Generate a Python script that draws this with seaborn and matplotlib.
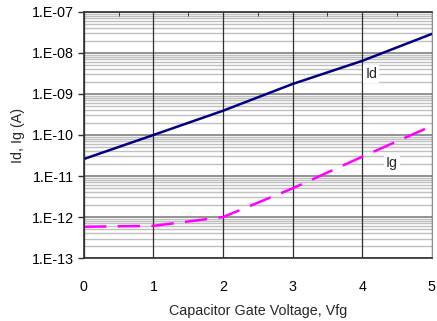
import numpy as np
import pandas as pd
import matplotlib
matplotlib.use("Agg")
import matplotlib.pyplot as plt
import matplotlib.ticker as mticker
import seaborn as sns

# values
vfg = [0, 1, 2, 3, 4, 5]
id_vals = [2.6e-11, 1.0e-10, 3.9e-10, 1.75e-9, 6.4e-9, 2.9e-8]
ig_vals = [5.8e-13, 6.1e-13, 1.0e-12, 5.0e-12, 2.95e-11, 1.66e-10]

df = pd.DataFrame({"Vfg": vfg * 2,
                   "I": id_vals + ig_vals,
                   "series": ["Id"] * len(vfg) + ["Ig"] * len(vfg)})

sns.set_style("white")
plt.rcParams["font.family"] = ["Liberation Sans", "DejaVu Sans"]
FS = 10.3

fig, ax = plt.subplots(figsize=(4.37, 3.21), dpi=100)
fig.subplots_adjust(left=0.192, right=0.988, top=0.963, bottom=0.196)

ax.set_yscale("log")
ax.set_xlim(0, 5)
ax.set_ylim(1e-13, 1e-7)

# grid: light minor, darker major horizontal, dark vertical at integers
ax.yaxis.set_major_locator(mticker.LogLocator(base=10, numticks=20))
ax.yaxis.set_minor_locator(mticker.LogLocator(base=10, subs=np.arange(2, 10), numticks=20))
ax.yaxis.set_minor_formatter(mticker.NullFormatter())
ax.yaxis.set_major_formatter(mticker.FuncFormatter(lambda v, p: "1.E%03d" % round(np.log10(v))))
ax.xaxis.set_major_locator(mticker.MultipleLocator(1))
ax.xaxis.set_minor_locator(mticker.MultipleLocator(0.5))
ax.grid(which="minor", axis="y", color="#c0c0c0", lw=1.0, ls="-")
ax.grid(which="major", axis="y", color="#808080", lw=1.2, ls="-")
ax.grid(which="major", axis="x", color="#303030", lw=0.9, ls="-")
ax.set_axisbelow(True)
ax.xaxis.set_zorder(0.7)

sns.lineplot(data=df, x="Vfg", y="I", hue="series", style="series",
             palette={"Id": "#000080", "Ig": "#ff00ff"},
             dashes={"Id": "", "Ig": (9, 4.5)}, lw=1.8, legend=False, ax=ax)

ax.text(4.13, 3.1e-9, "Id", fontsize=FS, ha="center", va="center",
        bbox=dict(facecolor="white", edgecolor="none", pad=1.5))
ax.text(4.43, 2.1e-11, "Ig", fontsize=FS, ha="center", va="center",
        bbox=dict(facecolor="white", edgecolor="none", pad=1.5))

for s in ["left", "bottom", "top"]:
    ax.spines[s].set_color("#303030")
    ax.spines[s].set_linewidth(1.2)
ax.spines["right"].set_color("#909090")

ax.tick_params(axis="both", which="major", direction="out", length=4, width=1,
               color="#303030", labelsize=FS, colors="black")
ax.tick_params(axis="x", which="major", bottom=False, pad=12)
ax.tick_params(axis="y", which="minor", left=False)
ax.tick_params(axis="x", which="minor", top=True, bottom=False, direction="in", length=3)
ax.tick_params(axis="y", which="major", left=True, pad=3)

ax.set_xlabel("Capacitor Gate Voltage, Vfg", fontsize=FS, labelpad=7)
ax.set_ylabel("Id, Ig (A)", fontsize=FS, labelpad=5)

fig.savefig("out.png", dpi=100)
